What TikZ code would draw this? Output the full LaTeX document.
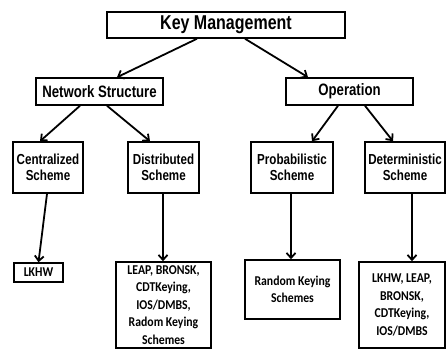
\documentclass[tikz,border=0pt]{standalone}
\usepackage{fontspec}
\usetikzlibrary{arrows.meta}
\newfontfamily\arialf{Liberation Sans}[FakeStretch=0.8]
\newfontfamily\calibf{Carlito}[FakeStretch=0.87]
\tikzset{
  box/.style={draw=black, line width=1.5pt, rectangle, inner sep=0pt, align=center, anchor=center},
  hbox/.style={box, font=\arialf\bfseries},
  sbox/.style={box, minimum height=51pt, font=\arialf\bfseries\fontsize{14.5}{15.5}\selectfont},
  lbox/.style={box, font=\calibf\bfseries\fontsize{13.5}{17.6}\selectfont},
  arr/.style={line width=1.8pt, -{Straight Barb[length=5pt,width=9pt]}}
}
\begin{document}
\begin{tikzpicture}[x=1pt,y=-1pt]
\useasboundingbox (0,0) rectangle (446,350);
\clip (0,0) rectangle (446,350);
\fill[white] (0,0) rectangle (446,350);
% top
\node[hbox, minimum width=238pt, minimum height=26pt, font=\arialf\bfseries\fontsize{20}{22}\selectfont] (km) at (226,25) {Key Management};
\node[hbox, minimum width=127pt, minimum height=27pt, font=\arialf\bfseries\fontsize{16.5}{18}\selectfont] (ns) at (99.5,91.5) {Network Structure};
\node[hbox, minimum width=127pt, minimum height=27pt, font=\arialf\bfseries\fontsize{16.5}{18}\selectfont] (op) at (349.5,91.5) {Operation};
% schemes
\node[sbox, minimum width=70pt] (cs) at (48,167.5) {Centralized\\Scheme};
\node[sbox, minimum width=71pt] (ds) at (163.5,167.5) {Distributed\\Scheme};
\node[sbox, minimum width=82pt] (ps) at (292,167.5) {Probabilistic\\Scheme};
\node[sbox, minimum width=80pt] (dt) at (405,167.5) {Deterministic\\Scheme};
% leaves
\node[lbox, minimum width=49pt, minimum height=19pt] (lk) at (38.5,272.5) {LKHW};
\node[lbox, minimum width=95pt, minimum height=86pt] (dl) at (163.5,305) {LEAP, BRONSK,\\CDTKeying,\\IOS/DMBS,\\Radom Keying\\Schemes};
\node[lbox, minimum width=95pt, minimum height=59pt] (rk) at (292.5,289.5) {Random Keying\\Schemes};
\node[lbox, minimum width=86pt, minimum height=86pt] (dtl) at (402,305) {LKHW, LEAP,\\BRONSK,\\CDTKeying,\\IOS/DMBS};
% connectors
\draw[arr] ([xshift=-29pt]km.south) -- ([xshift=17.5pt]ns.north);
\draw[arr] ([xshift=19pt]km.south) -- ([xshift=-41.5pt]op.north);
\draw[arr] ([xshift=-19.5pt]ns.south) -- ([xshift=-8pt]cs.north);
\draw[arr] ([xshift=7.5pt]ns.south) -- ([xshift=-13.5pt]ds.north);
\draw[arr] ([xshift=-11.5pt]op.south) -- ([xshift=20pt]ps.north);
\draw[arr] ([xshift=15.5pt]op.south) -- ([xshift=-12pt]dt.north);
\draw[arr] ([xshift=-1pt]cs.south) -- (lk.north);
\draw[arr] ([xshift=-0.5pt]ds.south) -- ([xshift=-0.5pt]dl.north);
\draw[arr] ([xshift=-1pt]ps.south) -- ([xshift=-1.5pt]rk.north);
\draw[arr] ([xshift=7pt]dt.south) -- ([xshift=10pt]dtl.north);
\end{tikzpicture}
\end{document}
